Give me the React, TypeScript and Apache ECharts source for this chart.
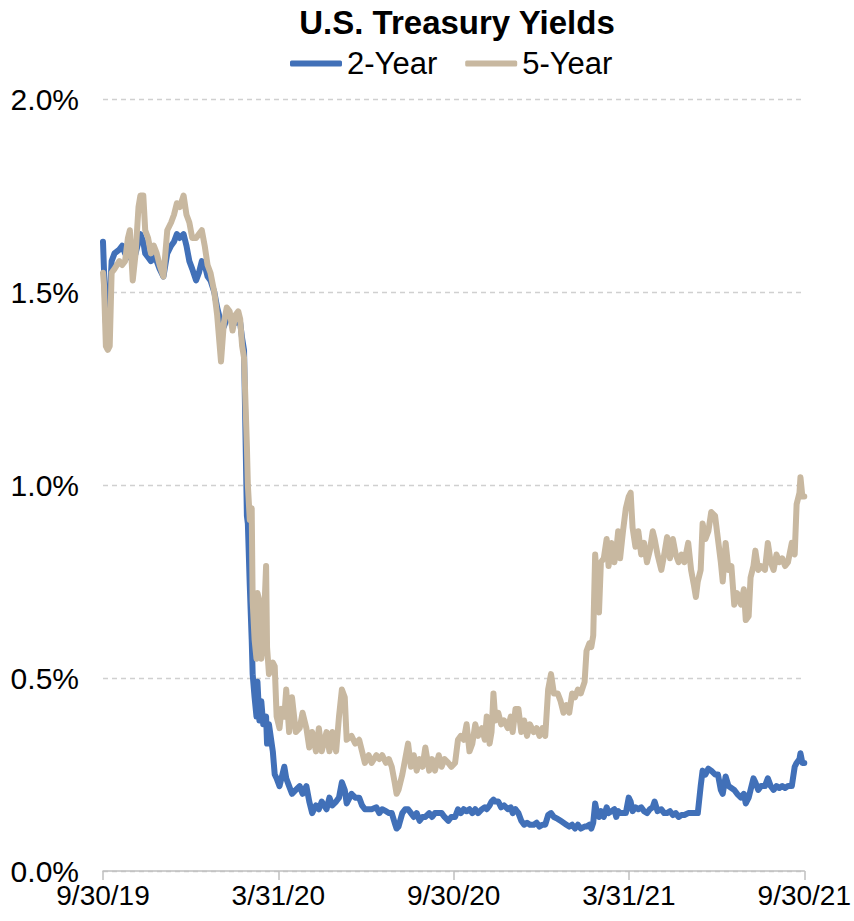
import React, { useEffect, useRef } from "react";
import * as echarts from "echarts";

// Days elapsed since 9/30/19
const days = [
  0, 1, 3, 5, 7, 9, 12, 17, 20, 23, 26, 28, 31, 34, 37, 39, 42, 44, 47, 50,
  53, 56, 59, 63, 67, 71, 74, 77, 80, 84, 87, 90, 93, 97, 100, 103, 106, 109, 112, 116,
  119, 123, 126, 129, 132, 135, 138, 141, 143, 145, 147, 150, 151, 153, 155, 156, 158, 160, 161, 163,
  165, 167, 170, 171, 173, 177, 179, 181, 184, 186, 189, 191, 194, 197, 201, 205, 208, 212, 215, 218,
  222, 225, 228, 233, 236, 239, 243, 246, 249, 252, 254, 259, 263, 267, 270, 273, 277, 280, 285, 288,
  291, 295, 298, 301, 304, 306, 308, 312, 315, 318, 321, 324, 327, 330, 333, 336, 340, 343, 346, 350,
  353, 356, 360, 363, 367, 370, 373, 376, 379, 382, 385, 388, 391, 395, 398, 400, 403, 405, 407, 409,
  412, 415, 418, 422, 425, 427, 430, 433, 436, 439, 442, 445, 449, 452, 455, 458, 461, 464, 467, 470,
  474, 477, 480, 483, 486, 489, 492, 495, 498, 502, 504, 507, 509, 511, 513, 515, 517, 519, 522, 525,
  527, 530, 533, 535, 537, 539, 542, 545, 548, 550, 552, 555, 558, 561, 564, 567, 570, 573, 575, 578,
  582, 585, 588, 591, 594, 597, 600, 603, 606, 610, 613, 616, 618, 620, 623, 625, 628, 631, 634, 638,
  641, 644, 646, 649, 652, 655, 658, 661, 665, 668, 670, 673, 675, 678, 680, 683, 686, 690, 693, 696,
  699, 702, 705, 708, 711, 714, 718, 721, 723, 726, 727, 729, 731,
];

const twoYear = [
  1.63, 1.56, 1.42, 1.40, 1.48, 1.58, 1.60, 1.61, 1.62, 1.60, 1.59, 1.60, 1.58, 1.60, 1.63, 1.65, 1.63, 1.60, 1.59, 1.58,
  1.59, 1.58, 1.56, 1.54, 1.60, 1.62, 1.63, 1.65, 1.64, 1.65, 1.62, 1.58, 1.56, 1.53, 1.55, 1.58, 1.57, 1.54, 1.53, 1.50,
  1.46, 1.42, 1.41, 1.43, 1.44, 1.42, 1.42, 1.43, 1.42, 1.38, 1.35, 0.92, 0.90, 0.74, 0.60, 0.51, 0.45, 0.40, 0.49, 0.39,
  0.44, 0.38, 0.40, 0.33, 0.38, 0.31, 0.25, 0.24, 0.22, 0.24, 0.27, 0.24, 0.22, 0.20, 0.21, 0.22, 0.20, 0.22, 0.18, 0.15,
  0.17, 0.16, 0.18, 0.16, 0.19, 0.17, 0.18, 0.19, 0.23, 0.21, 0.175, 0.20, 0.19, 0.19, 0.17, 0.16, 0.16, 0.16, 0.165, 0.15,
  0.16, 0.155, 0.15, 0.15, 0.125, 0.11, 0.115, 0.15, 0.16, 0.16, 0.15, 0.14, 0.15, 0.13, 0.14, 0.14, 0.15, 0.14, 0.15, 0.15,
  0.15, 0.14, 0.13, 0.14, 0.14, 0.16, 0.15, 0.16, 0.155, 0.16, 0.15, 0.16, 0.15, 0.16, 0.165, 0.16, 0.17, 0.18, 0.185, 0.18,
  0.18, 0.165, 0.17, 0.16, 0.165, 0.15, 0.16, 0.15, 0.13, 0.12, 0.125, 0.12, 0.12, 0.125, 0.115, 0.12, 0.12, 0.145, 0.15, 0.14,
  0.135, 0.13, 0.125, 0.12, 0.115, 0.12, 0.11, 0.12, 0.11, 0.115, 0.115, 0.12, 0.11, 0.125, 0.175, 0.15, 0.14, 0.155, 0.14, 0.165,
  0.15, 0.155, 0.16, 0.14, 0.155, 0.15, 0.15, 0.15, 0.19, 0.18, 0.155, 0.165, 0.16, 0.165, 0.155, 0.15, 0.16, 0.165, 0.18, 0.155,
  0.16, 0.15, 0.15, 0.155, 0.145, 0.15, 0.14, 0.145, 0.145, 0.15, 0.15, 0.15, 0.15, 0.15, 0.22, 0.26, 0.25, 0.265, 0.26, 0.25,
  0.25, 0.21, 0.20, 0.245, 0.22, 0.215, 0.21, 0.20, 0.19, 0.20, 0.175, 0.19, 0.21, 0.24, 0.23, 0.21, 0.22, 0.22, 0.24, 0.22,
  0.21, 0.22, 0.215, 0.22, 0.215, 0.22, 0.22, 0.27, 0.28, 0.29, 0.305, 0.28, 0.28,
];

const fiveYear = [
  1.55, 1.52, 1.36, 1.35, 1.36, 1.55, 1.56, 1.58, 1.57, 1.58, 1.64, 1.66, 1.53, 1.60, 1.72, 1.75, 1.75, 1.66, 1.64, 1.60,
  1.62, 1.60, 1.57, 1.54, 1.66, 1.68, 1.70, 1.73, 1.72, 1.75, 1.70, 1.68, 1.64, 1.64, 1.65, 1.66, 1.62, 1.57, 1.55, 1.50,
  1.44, 1.32, 1.42, 1.46, 1.45, 1.40, 1.44, 1.45, 1.43, 1.36, 1.33, 1.10, 1.00, 0.91, 0.94, 0.70, 0.60, 0.55, 0.72, 0.70,
  0.55, 0.60, 0.79, 0.58, 0.51, 0.54, 0.53, 0.40, 0.37, 0.42, 0.40, 0.47, 0.36, 0.45, 0.36, 0.37, 0.41, 0.37, 0.32, 0.36,
  0.31, 0.37, 0.31, 0.36, 0.31, 0.36, 0.31, 0.40, 0.47, 0.45, 0.34, 0.35, 0.33, 0.34, 0.31, 0.28, 0.30, 0.28, 0.30, 0.29,
  0.30, 0.28, 0.29, 0.27, 0.23, 0.20, 0.21, 0.25, 0.29, 0.33, 0.27, 0.30, 0.26, 0.29, 0.27, 0.32, 0.26, 0.29, 0.26, 0.30,
  0.27, 0.29, 0.28, 0.27, 0.28, 0.34, 0.35, 0.34, 0.38, 0.31, 0.33, 0.38, 0.35, 0.37, 0.34, 0.40, 0.33, 0.36, 0.46, 0.39,
  0.41, 0.38, 0.39, 0.37, 0.40, 0.36, 0.42, 0.42, 0.36, 0.39, 0.35, 0.38, 0.36, 0.37, 0.35, 0.37, 0.35, 0.47, 0.51, 0.46,
  0.46, 0.44, 0.41, 0.43, 0.41, 0.46, 0.45, 0.47, 0.46, 0.49, 0.57, 0.59, 0.58, 0.61, 0.82, 0.75, 0.67, 0.80, 0.81, 0.86,
  0.79, 0.85, 0.80, 0.83, 0.88, 0.81, 0.88, 0.94, 0.97, 0.98, 0.89, 0.84, 0.88, 0.82, 0.85, 0.80, 0.83, 0.88, 0.86, 0.82,
  0.78, 0.82, 0.865, 0.81, 0.86, 0.82, 0.80, 0.82, 0.80, 0.85, 0.78, 0.74, 0.71, 0.75, 0.78, 0.90, 0.86, 0.88, 0.93, 0.92,
  0.86, 0.80, 0.75, 0.85, 0.78, 0.79, 0.69, 0.72, 0.69, 0.73, 0.65, 0.66, 0.76, 0.79, 0.83, 0.78, 0.79, 0.78, 0.85, 0.80,
  0.78, 0.82, 0.80, 0.81, 0.79, 0.80, 0.85, 0.82, 0.95, 0.98, 1.02, 0.97, 0.97,
];

const xTickLabels = ["9/30/19", "3/31/20", "9/30/20", "3/31/21", "9/30/21"];
const seriesNames = ["2-Year", "5-Year"];

const FONT = "'Liberation Sans', Arial, sans-serif";

export default function App() {
  const ref = useRef<HTMLDivElement>(null);

  useEffect(() => {
    if (!ref.current) return;
    const chart = echarts.init(ref.current, null, { renderer: "svg" });
    const totalDays = 731;
    const step = totalDays / (xTickLabels.length - 1);
    chart.setOption({
      animation: false,
      backgroundColor: "#ffffff",
      textStyle: { fontFamily: FONT },
      title: {
        text: "U.S. Treasury Yields",
        left: 452,
        textAlign: "center",
        top: 1,
        textStyle: { fontFamily: FONT, fontSize: 33, fontWeight: "bold", color: "#000" },
      },
      legend: {
        data: seriesNames,
        left: 285,
        top: 43,
        icon: "roundRect",
        itemWidth: 52,
        itemHeight: 6,
        itemGap: 28,
        textStyle: { fontFamily: FONT, fontSize: 31, color: "#000" },
      },
      grid: { left: 103, right: 47, top: 99, bottom: 50, containLabel: false },
      xAxis: {
        type: "value",
        min: 0,
        max: totalDays,
        interval: step,
        splitLine: { show: false },
        axisLine: { show: true, lineStyle: { color: "#BFBFBF", width: 1.5 } },
        axisTick: { show: true, length: 9, lineStyle: { color: "#BFBFBF", width: 1.5 } },
        axisLabel: {
          margin: 10,
          fontFamily: FONT,
          fontSize: 28,
          color: "#000",
          formatter: (v: number) => xTickLabels[Math.round(v / step)] ?? "",
        },
      },
      yAxis: {
        type: "value",
        min: 0,
        max: 2,
        interval: 0.5,
        axisLine: { show: false },
        axisTick: { show: false },
        splitLine: { show: true, lineStyle: { color: "#D0D0D0", type: [5, 4], width: 1.3 } },
        axisLabel: {
          margin: 24,
          fontFamily: FONT,
          fontSize: 30,
          color: "#000",
          formatter: (v: number) => v.toFixed(1) + "%",
        },
      },
      series: [
        {
          name: seriesNames[0],
          type: "line",
          showSymbol: false,
          symbol: "none",
          data: days.map((d, i) => [d, twoYear[i]]),
          lineStyle: { color: "#4170B8", width: 6, join: "round", cap: "round" },
          itemStyle: { color: "#4170B8" },
          z: 2,
        },
        {
          name: seriesNames[1],
          type: "line",
          showSymbol: false,
          symbol: "none",
          data: days.map((d, i) => [d, fiveYear[i]]),
          lineStyle: { color: "#C8B8A0", width: 6, join: "round", cap: "round" },
          itemStyle: { color: "#C8B8A0" },
          z: 3,
        },
      ],
    });
    return () => chart.dispose();
  }, []);

  return <div ref={ref} style={{ width: 854, height: 921, position: "absolute", left: 0, top: 0 }} />;
}
